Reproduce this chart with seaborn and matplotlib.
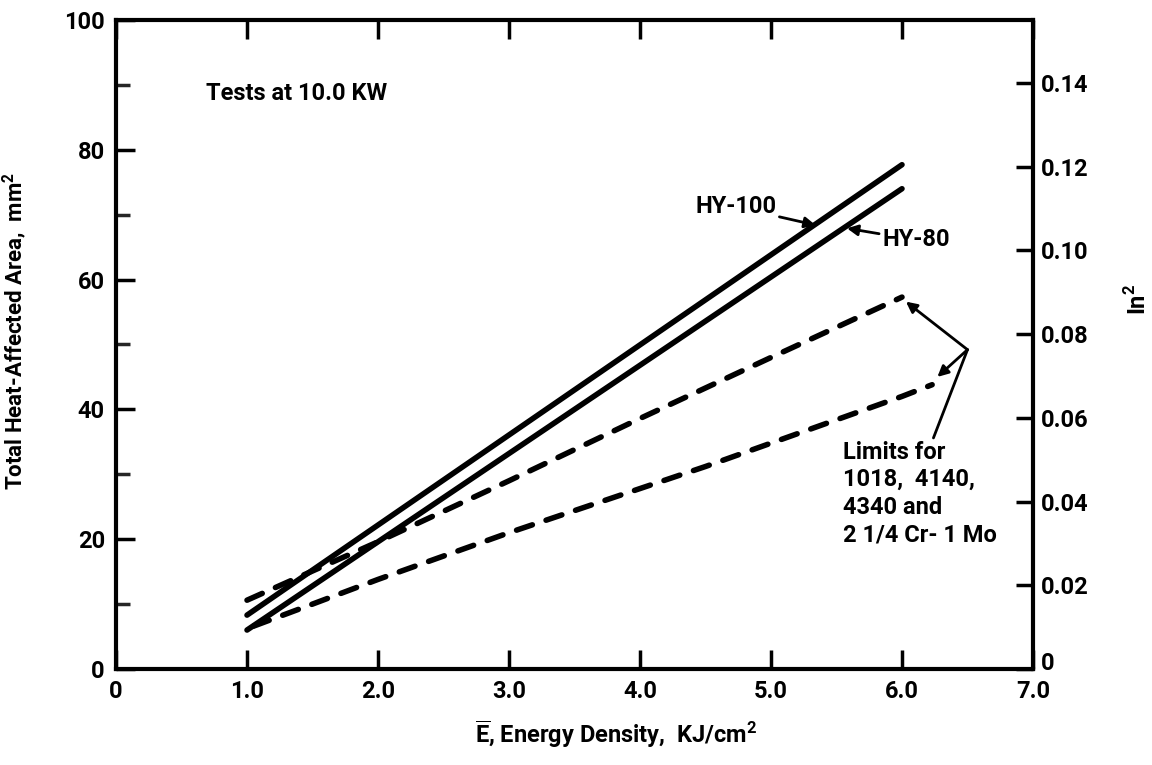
import matplotlib
matplotlib.use("Agg")
import matplotlib.pyplot as plt
import matplotlib.transforms as mtransforms
import seaborn as sns
import pandas as pd

# Data (area in mm^2 vs energy density in KJ/cm^2)
hy_energy = [1.0, 6.0]
hy100_area = [8.3, 77.7]
hy80_area = [6.0, 74.0]

upper_energy = [1.0, 2.0, 3.0, 4.0, 5.0, 6.0]
upper_area = [10.6, 19.6, 29.0, 38.6, 48.0, 57.3]

lower_energy = [1.05, 1.5, 2.0, 2.5, 3.0, 3.5, 4.0, 4.5, 5.0, 5.5, 6.0, 6.23]
lower_area = [6.6, 10.0, 13.8, 17.4, 21.0, 24.4, 27.8, 31.2, 34.8, 38.4, 42.0, 43.8]

x_ticks = [0, 1, 2, 3, 4, 5, 6, 7]
x_labels = ["0", "1.0", "2.0", "3.0", "4.0", "5.0", "6.0", "7.0"]
y_ticks = [0, 20, 40, 60, 80, 100]
in2_ticks = [0, 0.02, 0.04, 0.06, 0.08, 0.10, 0.12, 0.14]
in2_labels = ["0", "0.02", "0.04", "0.06", "0.08", "0.10", "0.12", "0.14"]
MM2_PER_IN2 = 645.16

sns.set_theme(style="ticks")
FONT = ["Roboto", "DejaVu Sans"]
plt.rcParams["font.family"] = FONT
plt.rcParams["font.weight"] = "bold"
plt.rcParams["text.color"] = "black"
plt.rcParams["axes.labelcolor"] = "black"
plt.rcParams["mathtext.fontset"] = "custom"
plt.rcParams["mathtext.rm"] = "Roboto:bold"
plt.rcParams["mathtext.bf"] = "Roboto:bold"

fig = plt.figure(figsize=(11.52, 7.65), dpi=100)
ax = fig.add_axes([0.1007, 0.1255, 0.796, 0.8484])

solid = pd.DataFrame({"E": hy_energy, "HY-100": hy100_area, "HY-80": hy80_area})
sns.lineplot(data=solid, x="E", y="HY-100", ax=ax, color="black", lw=4)
sns.lineplot(data=solid, x="E", y="HY-80", ax=ax, color="black", lw=4)

upper = pd.DataFrame({"E": upper_energy, "A": upper_area})
lower = pd.DataFrame({"E": lower_energy, "A": lower_area})
sns.lineplot(data=upper, x="E", y="A", ax=ax, color="black", lw=4)
sns.lineplot(data=lower, x="E", y="A", ax=ax, color="black", lw=4)
for ln in ax.lines[2:4]:
    ln.set_dashes((3, 2.6))
    ln.set_dash_capstyle("round")

ax.set_xlim(0, 7)
ax.set_ylim(0, 100)
ax.set_xticks(x_ticks)
ax.set_xticklabels(x_labels)
ax.set_yticks(y_ticks)
ax.set_yticks([10, 30, 50, 70, 90], minor=True)

for s in ax.spines.values():
    s.set_linewidth(3)
    s.set_color("black")

ax.tick_params(axis="both", which="major", direction="in", length=14, width=2.5,
               labelsize=17, colors="black", pad=8)
ax.tick_params(axis="x", top=True)
ax.tick_params(axis="y", which="minor", direction="in", length=10, width=2.5)

ax2 = ax.twinx()
ax2.set_ylim(0, 100 / MM2_PER_IN2)
ax2.set_yticks(in2_ticks)
ax2.set_yticklabels(in2_labels)
ax2.tick_params(axis="y", direction="in", length=12, width=2.5, labelsize=17,
                colors="black", pad=6)
for s in ax2.spines.values():
    s.set_visible(False)
# lift the right-hand "0" a little so it sits clear of the "7.0"
zero_lbl = ax2.get_yticklabels()[0]
zero_lbl.set_transform(zero_lbl.get_transform() +
                       mtransforms.ScaledTranslation(0, 6 / 72, fig.dpi_scale_trans))

ax.set_xlabel(r"$\overline{\mathrm{E}}$, Energy Density,  KJ/cm$^{\mathrm{2}}$",
              fontsize=17, fontweight="bold")
ax.xaxis.set_label_coords(0.545, -0.075)
ax.set_ylabel(r"Total Heat-Affected Area,  mm$^{\mathrm{2}}$", fontsize=16,
              fontweight="bold")
ax.yaxis.set_label_coords(-0.095, 0.52)
ax2.set_ylabel(r"In$^{\mathrm{2}}$", fontsize=17, fontweight="bold")
ax2.yaxis.set_label_coords(1.1, 0.57)

ax.text(0.69, 88.6, "Tests at 10.0 KW", fontsize=17, fontweight="bold", va="center")

arrow = dict(arrowstyle="-|>", color="black", lw=2, mutation_scale=16, shrinkA=0, shrinkB=0)
ax.annotate("HY-100", xy=(5.34, 68.4), xytext=(4.42, 71.2), fontsize=17,
            fontweight="bold", va="center", ha="left", arrowprops=arrow)
ax.annotate("HY-80", xy=(5.58, 67.9), xytext=(5.85, 66.1), fontsize=17,
            fontweight="bold", va="center", ha="left", arrowprops=arrow)

hub = (6.50, 49.2)
ax.annotate("", xy=(6.03, 56.6), xytext=hub, arrowprops=arrow)
ax.annotate("", xy=(6.27, 45.0), xytext=hub, arrowprops=arrow)
ax.annotate("", xy=(6.24, 35.6), xytext=hub,
            arrowprops=dict(arrowstyle="-", color="black", lw=2, shrinkA=0, shrinkB=0))
ax.text(5.55, 35.2, "Limits for\n1018,  4140,\n4340 and\n2 1/4 Cr- 1 Mo",
        fontsize=17, fontweight="bold", va="top", ha="left", linespacing=1.25)

fig.savefig("out.png", dpi=100)
